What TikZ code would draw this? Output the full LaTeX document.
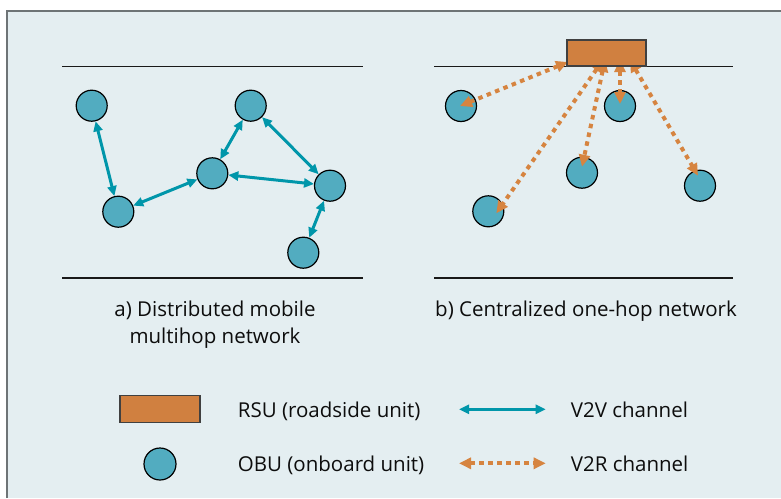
\documentclass[tikz,border=0pt]{standalone}
\usepackage{fontspec}
\setmainfont{Open Sans}
\usetikzlibrary{arrows.meta,calc}
\definecolor{bgc}{RGB}{228,238,241}
\definecolor{framec}{RGB}{110,116,118}
\definecolor{v2vcol}{RGB}{0,150,170}
\definecolor{obufill}{RGB}{82,172,192}
\definecolor{rsufill}{RGB}{208,128,64}
\definecolor{v2rcol}{RGB}{214,132,64}
\begin{document}
\begin{tikzpicture}[x=1pt,y=-1pt,
  obu/.style={circle,draw=black,line width=1.2pt,fill=obufill,minimum size=31pt,inner sep=0pt},
  rsu/.style={rectangle,draw=black!75,line width=1.3pt,fill=rsufill,minimum width=79pt,minimum height=26pt,inner sep=0pt},
  road/.style={line width=1.3pt,black!90},
  v2v/.style={line width=3pt,v2vcol,{Triangle[length=10pt,width=9pt]}-{Triangle[length=10pt,width=9pt]}},
  v2r/.style={line width=4pt,v2rcol,dash pattern=on 4.5pt off 4.5pt,{Triangle[length=12pt,width=11pt]}-{Triangle[length=12pt,width=11pt]}},
  lbl/.style={font=\fontsize{20.5}{26.7}\selectfont,text=black!95,inner sep=0pt}]
\useasboundingbox (0,0) rectangle (781,498);
\fill[white] (0,0) rectangle (781,498);
\fill[bgc] (7,11) rectangle (781,498);
\draw[framec,line width=2pt] (7,498) -- (7,11) -- (781,11);
% roads
\coordinate (la1) at (62,66.5); \coordinate (la2) at (363,66.5);
\coordinate (lb1) at (62,278); \coordinate (lb2) at (363,278);
\coordinate (ra1) at (434,66.5); \coordinate (ra2) at (733,66.5);
\coordinate (rb1) at (434,278); \coordinate (rb2) at (733,278);
\draw[road] (la1) -- (la2);
\draw[road] (lb1) -- (lb2);
\draw[road] (ra1) -- (ra2);
\draw[road] (rb1) -- (rb2);
% left network
\node[obu] (n1) at (91.7,105.7) {};
\node[obu] (n2) at (118.3,211.7) {};
\node[obu] (n3) at (212.3,173.3) {};
\node[obu] (n4) at (250.7,105.7) {};
\node[obu] (n5) at (330,185.7) {};
\node[obu] (n6) at (303.3,252.7) {};
\draw[v2v] (n1) -- (n2);
\draw[v2v] (n2) -- (n3);
\draw[v2v] (n3) -- (n4);
\draw[v2v] (n4) -- (n5);
\draw[v2v] (n3) -- (n5);
\draw[v2v] (n5) -- (n6);
% right network
\node[obu] (m1) at (461,106) {};
\node[obu] (m2) at (488.3,211.3) {};
\node[obu] (m3) at (582,172.7) {};
\node[obu] (m4) at (620,106) {};
\node[obu] (m5) at (700,185.7) {};
\coordinate (s1) at (568,62);
\coordinate (s2) at (603,60);
\coordinate (s3) at (605,60);
\coordinate (s4) at (620,60);
\coordinate (s5) at (630,60);
\draw[v2r] (s1) -- ($(m1.center)+(-1,0)$);
\draw[v2r] (s2) -- ($(m2.center)+(8,2)$);
\draw[v2r] (s3) -- ($(m3.center)+(0,-6)$);
\draw[v2r] (s4) -- ($(m4.center)+(0,-2)$);
\draw[v2r] (s5) -- ($(m5.center)+(-2,-10)$);
\node[rsu] (rsu) at (606.5,53) {};
% captions
\node[lbl,align=center,anchor=base] (capa) at (215,343.2) {a) Distributed mobile\\multihop network};
\node[lbl,anchor=base] (capb) at (586,316.5) {b) Centralized one-hop network};
% legend
\node[rsu,minimum width=80pt,minimum height=27pt] (lrsu) at (160,408.7) {};
\node[obu,minimum size=32pt] (lobu) at (160,464) {};
\node[lbl,anchor=base west] (trsu) at (237.7,417) {RSU (roadside unit)};
\node[lbl,anchor=base west] (tobu) at (237.7,471.5) {OBU (onboard unit)};
\coordinate (va) at (459,409.3); \coordinate (vb) at (545.7,409.3);
\coordinate (ra) at (459,463.3); \coordinate (rb) at (545.7,463.3);
\draw[v2v] (va) -- (vb);
\draw[v2r] (ra) -- (rb);
\node[lbl,anchor=base west] (tv2v) at (570.7,417) {V2V channel};
\node[lbl,anchor=base west] (tv2r) at (570.7,471.5) {V2R channel};
\end{tikzpicture}
\end{document}
